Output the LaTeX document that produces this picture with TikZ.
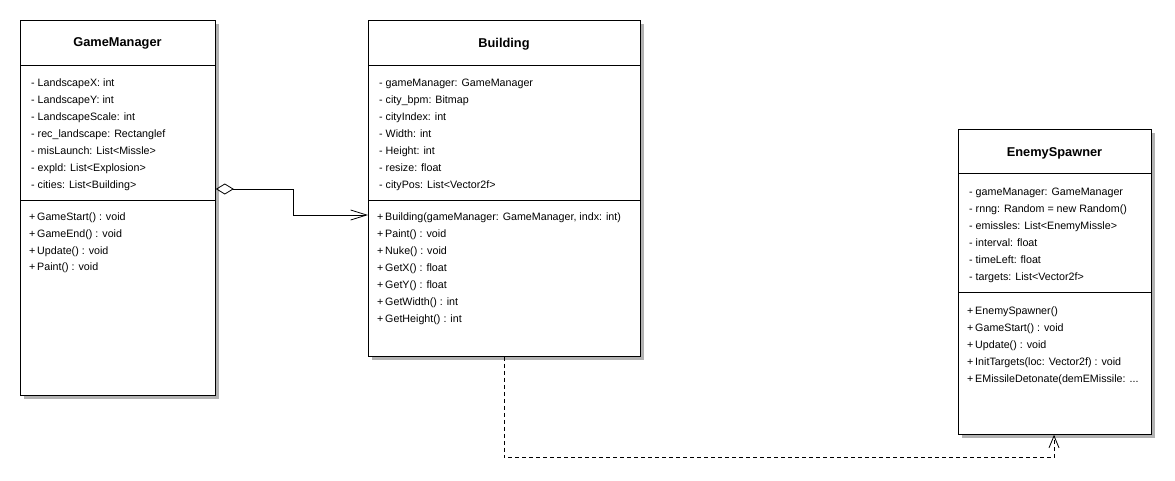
\documentclass[tikz,border=0pt]{standalone}
\usepackage{fontspec}
\setmainfont{Liberation Sans}
\usetikzlibrary{arrows.meta,calc,shadows}
\begin{document}
\begin{tikzpicture}[x=1pt,y=-1pt,
  classbox/.style={draw=black, line width=0.8pt, fill=white, anchor=north west, inner sep=0pt,
    drop shadow={shadow xshift=4pt, shadow yshift=-4pt, fill=black!30, opacity=1}},
  divider/.style={draw=black, line width=0.8pt},
  ctitle/.style={anchor=base, inner sep=0pt, font=\fontsize{12.8}{14}\selectfont\bfseries},
  member/.style={anchor=base west, inner sep=0pt, font=\fontsize{10.7}{12}\selectfont},
  aggr/.style={draw=black, line width=0.8pt, {Diamond[open, length=18pt, width=11pt]}-{Straight Barb[length=16pt, width=10pt]}},
  dep/.style={draw=black, line width=0.8pt, dash pattern=on 4pt off 3pt, -{Straight Barb[length=12pt, width=10pt]}}
]
\fill[white] (0,0) rectangle (1175,480);
\useasboundingbox (0,0) rectangle (1175,480);

% ---------- GameManager ----------
\node[classbox, minimum width=195pt, minimum height=375pt] (gm) at (20,20) {};
\draw[divider] ($(gm.north west)+(0,45)$) -- ($(gm.north east)+(0,45)$);
\draw[divider] ($(gm.north west)+(0,180)$) -- ($(gm.north east)+(0,180)$);
\node[ctitle] (gmT) at (117.5,46.8) {GameManager};
\foreach \t [count=\i] in {- LandscapeX: int, - LandscapeY: int, - LandscapeScale: int,
  - rec\_landscape: Rectanglef, - misLaunch: List<Missle>, - expld: List<Explosion>,
  - cities: List<Building>}
  \node[member] (gmA\i) at (31,{86+17*(\i-1)}) {\t};
\foreach \t [count=\i] in {+\,GameStart() : void, +\,GameEnd() : void, +\,Update() : void, +\,Paint() : void}
  \node[member] (gmM\i) at (29,{220.8+16.7*(\i-1)}) {\t};

% ---------- Building ----------
\node[classbox, minimum width=272pt, minimum height=336pt] (bd) at (368,20) {};
\draw[divider] ($(bd.north west)+(0,45)$) -- ($(bd.north east)+(0,45)$);
\draw[divider] ($(bd.north west)+(0,180)$) -- ($(bd.north east)+(0,180)$);
\node[ctitle] (bdT) at (504,47) {Building};
\foreach \t [count=\i] in {- gameManager: GameManager, - city\_bpm: Bitmap, - cityIndex: int,
  - Width: int, - Height: int, - resize: float, - cityPos: List<Vector2f>}
  \node[member] (bdA\i) at (379,{86+17*(\i-1)}) {\t};
\foreach \t [count=\i] in {{+\,Building(gameManager: GameManager, indx: int)}, +\,Paint() : void,
  +\,Nuke() : void, +\,GetX() : float, +\,GetY() : float, +\,GetWidth() : int, +\,GetHeight() : int}
  \node[member] (bdM\i) at (377,{220+17*(\i-1)}) {\t};

% ---------- EnemySpawner ----------
\node[classbox, minimum width=193pt, minimum height=305pt] (es) at (958,129) {};
\draw[divider] ($(es.north west)+(0,44)$) -- ($(es.north east)+(0,44)$);
\draw[divider] ($(es.north west)+(0,163)$) -- ($(es.north east)+(0,163)$);
\node[ctitle] (esT) at (1054.5,156.5) {EnemySpawner};
\foreach \t [count=\i] in {- gameManager: GameManager, - rnng: Random = new Random(),
  - emissles: List<EnemyMissle>, - interval: float, - timeLeft: float, - targets: List<Vector2f>}
  \node[member] (esA\i) at (969,{195+17*(\i-1)}) {\t};
\foreach \t [count=\i] in {+\,EnemySpawner(), +\,GameStart() : void, +\,Update() : void,
  +\,InitTargets(loc: Vector2f) : void, {+\,EMissileDetonate(demEMissile: .\kern0pt.\kern0pt.}}
  \node[member] (esM\i) at (967,{314+17*(\i-1)}) {\t};

% ---------- Connectors ----------
\draw[aggr] ($(gm.north east)+(0,169)$) -- ++(78,0) |- ($(bd.north west)+(0,195)$);
\draw[dep] ($(bd.south west)+(136,0)$) -- ++(0,101) -| ($(es.south west)+(96,0)$);
\end{tikzpicture}
\end{document}
